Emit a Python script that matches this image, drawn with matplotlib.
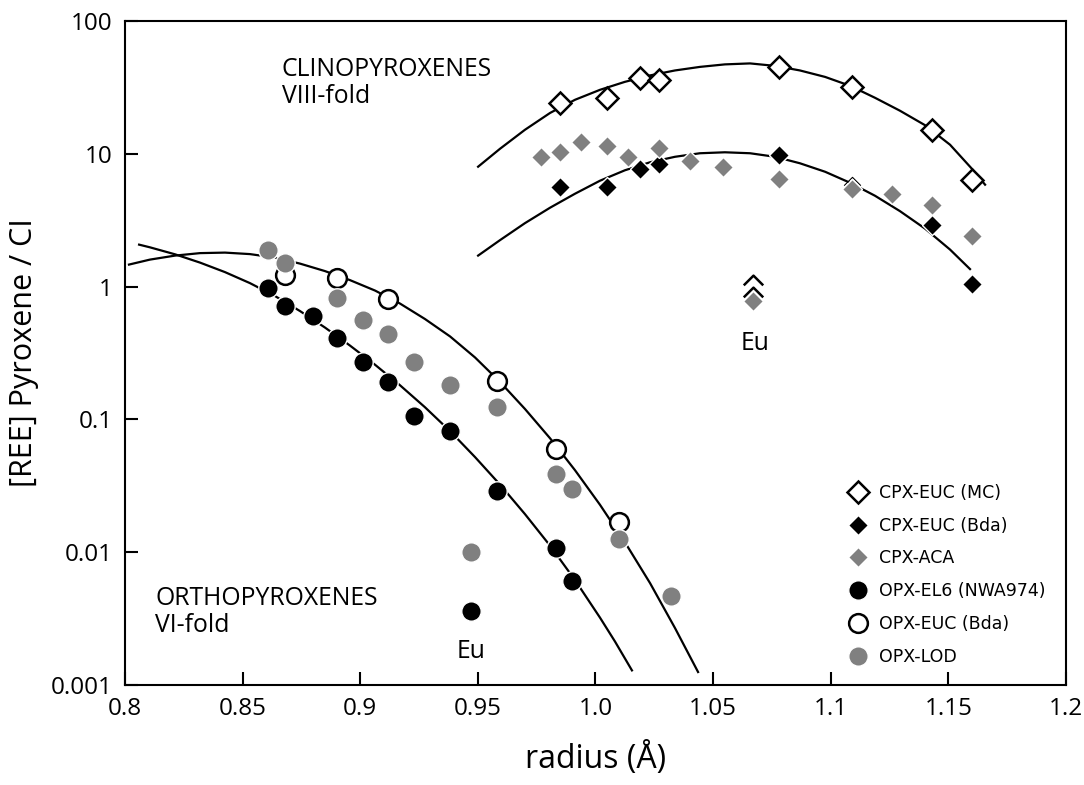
import matplotlib
matplotlib.use('Agg')
import matplotlib.pyplot as plt
from matplotlib.path import Path

# CPX (VIII-fold radii)
cpx_mc_r = [0.985, 1.005, 1.019, 1.027, 1.078, 1.109, 1.143, 1.160]
cpx_mc_v = [24.1, 26.2, 37.1, 36.0, 45.3, 31.7, 15.1, 6.3]
cpx_bda_r = [0.985, 1.005, 1.019, 1.027, 1.078, 1.143, 1.160]
cpx_bda_v = [5.6, 5.6, 7.7, 8.4, 9.8, 2.9, 1.05]
cpx_aca_r = [0.977, 0.985, 0.994, 1.005, 1.014, 1.027, 1.040, 1.054, 1.078, 1.109, 1.126, 1.143, 1.160, 1.067]
cpx_aca_v = [9.5, 10.4, 12.2, 11.4, 9.5, 11.0, 8.8, 7.9, 6.5, 5.4, 5.0, 4.1, 2.4, 0.78]
# partly hidden open symbols (Eu and Nd)
cpx_hidden_r = [1.067, 1.067]
cpx_hidden_v = [1.13, 0.916]
cpx_nd_hidden_r = [1.109]
cpx_nd_hidden_v = [6.27]

# OPX (VI-fold radii)
opx_el6_r = [0.861, 0.868, 0.880, 0.890, 0.901, 0.912, 0.923, 0.938, 0.958, 0.983, 0.990, 0.947]
opx_el6_v = [0.98, 0.72, 0.60, 0.41, 0.27, 0.19, 0.106, 0.082, 0.029, 0.0108, 0.0061, 0.0036]
opx_bda_r = [0.868, 0.890, 0.912, 0.958, 0.983, 1.010]
opx_bda_v = [1.23, 1.16, 0.81, 0.194, 0.060, 0.0169]
opx_lod_r = [0.861, 0.868, 0.890, 0.901, 0.912, 0.923, 0.938, 0.958, 0.983, 0.990, 1.010, 1.032, 0.947]
opx_lod_v = [1.90, 1.51, 0.82, 0.56, 0.44, 0.27, 0.18, 0.125, 0.0386, 0.030, 0.0125, 0.0047, 0.0100]

# fitted curves
cpx_fit_hi_r = [0.9501, 0.9594, 0.9700, 0.9807, 0.9913, 1.0019, 1.0125, 1.0232, 1.0338, 1.0444, 1.0550,
                1.0657, 1.0763, 1.0869, 1.0976, 1.1082, 1.1188, 1.1294, 1.1401, 1.1507, 1.1596, 1.1656]
cpx_fit_hi_v = [7.99, 10.9, 15.15, 20.3, 25.5, 30.3, 34.8, 38.9, 42.4, 45.1, 47.1,
                47.9, 45.9, 42.4, 37.9, 32.5, 26.4, 21.1, 16.4, 11.7, 7.85, 5.85]
cpx_fit_lo_r = [0.9501, 0.9594, 0.9700, 0.9807, 0.9913, 1.0019, 1.0125, 1.0232, 1.0338, 1.0444, 1.0550,
                1.0657, 1.0763, 1.0869, 1.0976, 1.1082, 1.1188, 1.1294, 1.1401, 1.1507, 1.1592]
cpx_fit_lo_v = [1.711, 2.236, 3.002, 3.926, 5.003, 6.266, 7.51, 8.63, 9.49, 10.09, 10.26,
                10.09, 9.49, 8.48, 7.32, 6.05, 4.83, 3.70, 2.73, 1.90, 1.354]
opx_fit_a_r = [0.8017, 0.8106, 0.8213, 0.8319, 0.8425, 0.8531, 0.8638, 0.8744, 0.8850, 0.8956, 0.9063, 0.9169,
               0.9275, 0.9382, 0.9488, 0.9594, 0.9700, 0.9807, 0.9913, 1.0019, 1.0125, 1.0232, 1.0338, 1.0436]
opx_fit_a_v = [1.464, 1.596, 1.711, 1.786, 1.802, 1.756, 1.652, 1.489, 1.308, 1.119, 0.933, 0.745,
               0.570, 0.421, 0.2925, 0.1914, 0.1199, 0.0720, 0.0414, 0.02276, 0.01189, 0.005845, 0.002683, 0.001252]
opx_fit_b_r = [0.8060, 0.8106, 0.8213, 0.8319, 0.8425, 0.8531, 0.8638, 0.8744, 0.8850, 0.8956, 0.9063,
               0.9169, 0.9275, 0.9382, 0.9488, 0.9594, 0.9700, 0.9807, 0.9913, 1.0019, 1.0083, 1.0155]
opx_fit_b_v = [2.069, 1.975, 1.749, 1.515, 1.285, 1.062, 0.848, 0.654, 0.4916, 0.360, 0.2578,
               0.1807, 0.1235, 0.0815, 0.0520, 0.0323, 0.01937, 0.01119, 0.006161, 0.003217, 0.002123, 0.001288]

x_ticks = [0.8, 0.85, 0.9, 0.95, 1.0, 1.05, 1.1, 1.15, 1.2]
x_tick_labels = ['0.8', '0.85', '0.9', '0.95', '1.0', '1.05', '1.1', '1.15', '1.2']
y_ticks = [0.001, 0.01, 0.1, 1, 10, 100]
y_tick_labels = ['0.001', '0.01', '0.1', '1', '10', '100']

GREY = '#808080'
MAIN_FONT = 'Open Sans'


def main():
    fig = plt.figure(figsize=(10.84, 7.85), dpi=100)
    ax = fig.add_axes([0.1153, 0.1274, 0.8681, 0.8459])

    # fit curves
    for r, v in [(cpx_fit_hi_r, cpx_fit_hi_v), (cpx_fit_lo_r, cpx_fit_lo_v),
                 (opx_fit_a_r, opx_fit_a_v), (opx_fit_b_r, opx_fit_b_v)]:
        ax.plot(r, v, color='black', lw=1.6, zorder=1, solid_joinstyle='round')

    chevron = Path([(-1, -0.5), (0, 0.5), (1, -0.5)], [Path.MOVETO, Path.LINETO, Path.LINETO])

    # clinopyroxenes
    ax.plot(cpx_nd_hidden_r, cpx_nd_hidden_v, ls='none', marker=chevron, ms=12,
            mec='black', mew=0.8, mfc='none', zorder=2)
    ax.plot(cpx_mc_r, cpx_mc_v, ls='none', marker='D', ms=11.5, mfc='white', mec='black',
            mew=1.8, zorder=3, label='CPX-EUC (MC)')
    ax.plot(cpx_hidden_r, cpx_hidden_v, ls='none', marker=chevron, ms=14,
            mec='black', mew=1.8, mfc='none', zorder=3)
    ax.plot(cpx_bda_r, cpx_bda_v, ls='none', marker='D', ms=10, mfc='black', mec='white',
            mew=1.0, zorder=4, label='CPX-EUC (Bda)')
    ax.plot(cpx_aca_r, cpx_aca_v, ls='none', marker='D', ms=10, mfc=GREY, mec='white',
            mew=1.0, zorder=4, label='CPX-ACA')

    # orthopyroxenes
    ax.plot(opx_bda_r, opx_bda_v, ls='none', marker='o', ms=13.5, mfc='white', mec='black',
            mew=1.8, zorder=3, label='OPX-EUC (Bda)')
    ax.plot(opx_lod_r, opx_lod_v, ls='none', marker='o', ms=14, mfc=GREY, mec='white',
            mew=1.0, zorder=4, label='OPX-LOD')
    ax.plot(opx_el6_r, opx_el6_v, ls='none', marker='o', ms=14, mfc='black', mec='white',
            mew=1.0, zorder=5, label='OPX-EL6 (NWA974)')

    ax.set_yscale('log')
    ax.set_xlim(0.8, 1.2)
    ax.set_ylim(0.001, 100)
    ax.set_xticks(x_ticks)
    ax.set_xticklabels(x_tick_labels)
    ax.set_yticks(y_ticks)
    ax.set_yticklabels(y_tick_labels)
    ax.minorticks_off()
    ax.tick_params(direction='in', length=9.5, width=1.5, pad=9, labelsize=17.5)
    for lab in ax.get_xticklabels() + ax.get_yticklabels():
        lab.set_fontfamily(MAIN_FONT)
    for sp in ax.spines.values():
        sp.set_linewidth(1.5)

    ax.set_xlabel('radius (Å)', fontsize=23, family=MAIN_FONT, labelpad=15)
    ax.set_ylabel('[REE] Pyroxene / CI', fontsize=22, family=MAIN_FONT, labelpad=8)

    # annotations
    ax.text(0.8667, 34, 'CLINOPYROXENES\nVIII-fold', fontsize=17.8, family=MAIN_FONT,
            ha='left', va='center', linespacing=1.12)
    ax.text(0.8128, 0.00355, 'ORTHOPYROXENES\nVI-fold', fontsize=17.8, family=MAIN_FONT,
            ha='left', va='center', linespacing=1.12)
    ax.text(0.947, 0.0018, 'Eu', fontsize=17.8, family=MAIN_FONT, ha='center', va='center')
    ax.text(1.068, 0.37, 'Eu', fontsize=17.8, family=MAIN_FONT, ha='center', va='center')

    handles, labels = ax.get_legend_handles_labels()
    order = ['CPX-EUC (MC)', 'CPX-EUC (Bda)', 'CPX-ACA', 'OPX-EL6 (NWA974)', 'OPX-EUC (Bda)', 'OPX-LOD']
    hmap = dict(zip(labels, handles))
    ax.legend([hmap[k] for k in order], order, loc='center left', bbox_to_anchor=(0.751, 0.166),
              frameon=False, prop={'family': 'DejaVu Sans', 'size': 12.5},
              handlelength=1.2, handletextpad=0.65, labelspacing=0.85, borderpad=0.4)

    fig.savefig('out.png', dpi=100)


if __name__ == '__main__':
    main()
